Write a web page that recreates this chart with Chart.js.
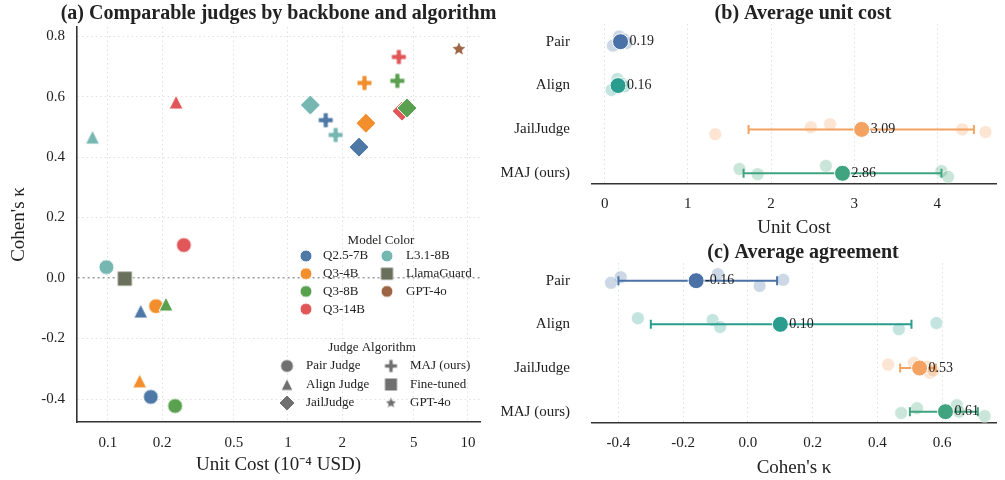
<!DOCTYPE html>
<html>
<head>
<meta charset="utf-8">
<script src="https://cdn.jsdelivr.net/npm/chart.js@4.4.1/dist/chart.umd.min.js"></script>
<style>
  body { margin: 0; background: #fff; }
  #wrap { position: relative; width: 1005px; height: 480px; overflow: hidden; }
  canvas { position: absolute; }
</style>
</head>
<body>
<div id="wrap">
  <canvas id="chart-a" width="520" height="480" style="left:0;top:0;width:520px;height:480px"></canvas>
  <canvas id="chart-b" width="505" height="240" style="left:500px;top:0;width:505px;height:240px"></canvas>
  <canvas id="chart-c" width="505" height="244" style="left:500px;top:236px;width:505px;height:244px"></canvas>
</div>
<script>
// backbones, in legend order
var models = ["Q2.5-7B", "Q3-4B", "Q3-8B", "Q3-14B", "L3.1-8B"];
var modelColors = ["#4e79a7", "#f28e2b", "#59a14f", "#e15759", "#76b7b2"];

// unit cost (1e-4 USD) and Cohen's kappa, same model order
var pairCost = [0.173, 0.185, 0.236, 0.264, 0.098];
var pairKappa = [-0.393, -0.093, -0.423, 0.109, 0.036];
var alignCost = [0.152, 0.150, 0.210, 0.239, 0.082];
var alignKappa = [-0.109, -0.340, -0.086, 0.582, 0.466];
var jailCost = [2.48, 2.71, 4.58, 4.30, 1.33];
var jailKappa = [0.433, 0.512, 0.562, 0.552, 0.572];
var majCost = [1.62, 2.66, 4.05, 4.13, 1.84];
var majKappa = [0.522, 0.645, 0.652, 0.731, 0.473];

var llamaGuardCost = 0.124, llamaGuardKappa = -0.002;
var gpt4oCost = 8.9, gpt4oKappa = 0.757;

var xTicksA = [0.1, 0.2, 0.5, 1, 2, 5, 10];
var xTickLabelsA = ["0.1", "0.2", "0.5", "1", "2", "5", "10"];
var yTicksA = [-0.4, -0.2, 0, 0.2, 0.4, 0.6, 0.8];

// panels b / c
var rowLabels = ["Pair", "Align", "JailJudge", "MAJ (ours)"];
var rowColors = ["#4a72a6", "#2a9d8f", "#f4a261", "#3fa47f"];
var costMean = [0.19, 0.16, 3.09, 2.86];
var costLow = [0.13, 0.10, 1.73, 1.67];
var costHigh = [0.25, 0.22, 4.44, 4.05];
var kappaMean = [-0.16, 0.10, 0.53, 0.61];
var kappaLow = [-0.40, -0.30, 0.47, 0.50];
var kappaHigh = [0.09, 0.505, 0.58, 0.71];
var xTicksB = [0, 1, 2, 3, 4];
var xTicksC = [-0.4, -0.2, 0, 0.2, 0.4, 0.6];

// vertical jitter of the faded per-model dots (row units)
var costJitter = [
  [-0.12, 0.05, -0.05, 0.03, 0.09],
  [-0.15, 0.06, -0.04, 0.02, 0.10],
  [-0.05, -0.12, 0.06, 0.00, 0.11],
  [-0.10, -0.17, -0.05, 0.08, 0.02]
];
var kappaJitter = [
  [-0.08, -0.15, 0.05, -0.02, 0.12],
  [-0.10, -0.14, 0.06, -0.03, 0.11],
  [-0.08, -0.12, 0.11, -0.03, 0.06],
  [-0.08, -0.15, 0.00, 0.10, 0.03]
];

var SERIF = "'Liberation Serif', 'Times New Roman', serif";
Chart.defaults.font.family = SERIF;
Chart.defaults.color = "#222";

function makeMarker(shape, color, r) {
  var s = Math.ceil(r * 2 + 4), m = s / 2;
  var c = document.createElement("canvas");
  c.width = s; c.height = s;
  var g = c.getContext("2d");
  g.fillStyle = color;
  g.strokeStyle = "#fff";
  g.lineWidth = 1;
  g.beginPath();
  if (shape === "circle") {
    g.arc(m, m, r, 0, 2 * Math.PI);
  } else if (shape === "triangle") {
    g.moveTo(m, m - r); g.lineTo(m + r, m + r); g.lineTo(m - r, m + r); g.closePath();
  } else if (shape === "diamond") {
    g.moveTo(m, m - r); g.lineTo(m + r, m); g.lineTo(m, m + r); g.lineTo(m - r, m); g.closePath();
  } else if (shape === "square") {
    g.rect(m - r, m - r, 2 * r, 2 * r);
  } else if (shape === "plus") {
    var t = r * 0.34;
    g.moveTo(m - t, m - r); g.lineTo(m + t, m - r); g.lineTo(m + t, m - t); g.lineTo(m + r, m - t);
    g.lineTo(m + r, m + t); g.lineTo(m + t, m + t); g.lineTo(m + t, m + r); g.lineTo(m - t, m + r);
    g.lineTo(m - t, m + t); g.lineTo(m - r, m + t); g.lineTo(m - r, m - t); g.lineTo(m - t, m - t);
    g.closePath();
  } else if (shape === "star") {
    for (var k = 0; k < 10; k++) {
      var a = -Math.PI / 2 + k * Math.PI / 5;
      var rr = k % 2 ? r * 0.45 : r;
      g.lineTo(m + rr * Math.cos(a), m + rr * Math.sin(a));
    }
    g.closePath();
  }
  g.fill();
  g.stroke();
  return c;
}

function fade(hex, a) {
  var n = parseInt(hex.slice(1), 16);
  return "rgba(" + (n >> 16) + "," + ((n >> 8) & 255) + "," + (n & 255) + "," + a + ")";
}

var panelTitle = {
  id: "panelTitle",
  afterDraw: function (chart, args, opts) {
    var ctx = chart.ctx;
    ctx.save();
    ctx.font = "bold 20px " + SERIF;
    ctx.fillStyle = "#222";
    ctx.textAlign = "center";
    ctx.textBaseline = "middle";
    ctx.fillText(opts.text, opts.x, opts.y);
    ctx.restore();
  }
};

// ---------- (a) scatter ----------
var algoShapes = ["circle", "triangle", "diamond", "plus"];
var markerSize = { circle: 7.5, triangle: 7, diamond: 10, plus: 7.5, square: 7.5, star: 8 };
var algoCost = [pairCost, alignCost, jailCost, majCost];
var algoKappa = [pairKappa, alignKappa, jailKappa, majKappa];
var zOrder = [1, 2, 0, 3, 4];

var datasetsA = models.map(function (name, i) {
  return {
    label: name,
    data: algoCost.map(function (c, k) { return { x: c[i], y: algoKappa[k][i] }; }),
    pointStyle: algoShapes.map(function (s) { return makeMarker(s, modelColors[i], markerSize[s]); }),
    pointRadius: 8,
    order: zOrder[i]
  };
});
datasetsA.push({ label: "LlamaGuard", data: [{ x: llamaGuardCost, y: llamaGuardKappa }],
  pointStyle: makeMarker("square", "#6b705c", markerSize.square), pointRadius: 8, order: 5 });
datasetsA.push({ label: "GPT-4o", data: [{ x: gpt4oCost, y: gpt4oKappa }],
  pointStyle: makeMarker("star", "#9c6644", markerSize.star), pointRadius: 8, order: 6 });

var legendA = {
  id: "legendA",
  afterDraw: function (chart) {
    var ctx = chart.ctx;
    ctx.save();
    ctx.font = "13px " + SERIF;
    ctx.fillStyle = "#222";
    ctx.textBaseline = "middle";
    ctx.textAlign = "center";
    ctx.fillText("Model Color", 381, 241);
    ctx.fillText("Judge Algorithm", 372, 348);
    ctx.textAlign = "left";
    var names = models.concat(["LlamaGuard", "GPT-4o"]);
    var cols = modelColors.concat(["#6b705c", "#9c6644"]);
    names.forEach(function (n, i) {
      var col = i < 4 ? 0 : 1, row = i < 4 ? i : i - 4;
      var mx = col ? 387 : 306, tx = col ? 406 : 323, y = 256 + row * 17.7;
      var mk = makeMarker(n === "LlamaGuard" ? "square" : "circle", cols[i], n === "LlamaGuard" ? 6.5 : 6);
      ctx.drawImage(mk, mx - mk.width / 2, y - mk.height / 2);
      ctx.fillStyle = "#222";
      ctx.fillText(n, tx, y);
    });
    var algoNames = ["Pair Judge", "Align Judge", "JailJudge", "MAJ (ours)", "Fine-tuned", "GPT-4o"];
    var algoMarks = ["circle", "triangle", "diamond", "plus", "square", "star"];
    var algoR = [6.5, 6, 8, 6.5, 6.5, 6.5];
    algoNames.forEach(function (n, i) {
      var col = i < 3 ? 0 : 1, row = i % 3;
      var mx = col ? 391 : 287, tx = col ? 410 : 306, y = 366 + row * 18.5;
      var mk = makeMarker(algoMarks[i], "#707070", algoR[i]);
      ctx.drawImage(mk, mx - mk.width / 2, y - mk.height / 2);
      ctx.fillText(n, tx, y);
    });
    ctx.restore();
  }
};

new Chart(document.getElementById("chart-a"), {
  type: "scatter",
  data: { datasets: datasetsA },
  plugins: [legendA, panelTitle],
  options: {
    responsive: false,
    animation: false,
    events: [],
    layout: { padding: { top: 27, right: 40, left: 0, bottom: 0 } },
    plugins: {
      legend: { display: false },
      tooltip: { enabled: false },
      panelTitle: { text: "(a) Comparable judges by backbone and algorithm", x: 278.5, y: 14 }
    },
    scales: {
      x: {
        type: "logarithmic",
        min: 0.0673, max: 11.66,
        afterBuildTicks: function (s) { s.ticks = xTicksA.map(function (v) { return { value: v }; }); },
        afterFit: function (s) { s.height = 58; },
        ticks: { autoSkip: false, maxRotation: 0, padding: 12, font: { size: 15 },
          callback: function (v, i) { return xTickLabelsA[i]; } },
        grid: { color: "#e0e0e0", lineWidth: 1, drawTicks: false },
        border: { display: true, color: "#333", width: 1.6,
          dash: function (c) { return c.type === "tick" ? [1.5, 3] : []; } },
        title: { display: true, text: "Unit Cost (10\u207B\u2074 USD)", font: { size: 19 }, padding: { top: 0, bottom: 4 } }
      },
      y: {
        min: -0.476, max: 0.83,
        afterBuildTicks: function (s) { s.ticks = yTicksA.map(function (v) { return { value: v }; }); },
        afterFit: function (s) { s.width = 77; },
        ticks: { padding: 12, font: { size: 15 },
          callback: function (v) { return v.toFixed(1); } },
        grid: {
          drawTicks: false,
          color: function (c) { return c.tick && c.tick.value === 0 ? "#9a9a9a" : "#e0e0e0"; },
          lineWidth: function (c) { return c.tick && c.tick.value === 0 ? 1.4 : 1; }
        },
        border: { display: true, color: "#333", width: 1.6,
          dash: function (c) {
            if (c.type !== "tick") return [];
            return c.tick.value === 0 ? [2, 3] : [1.5, 3];
          } },
        title: { display: true, text: "Cohen's \u03BA", font: { size: 19 }, padding: { top: 8, bottom: 0 } }
      }
    }
  }
});

// ---------- (b) / (c) dot + error bar panels ----------
function rowChart(id, cfg) {
  var datasets = [];
  cfg.values.forEach(function (vals, r) {
    datasets.push({
      data: vals.map(function (v, i) { return { x: v, y: r + cfg.jitter[r][i] }; }),
      backgroundColor: fade(rowColors[r], 0.28),
      borderColor: "rgba(255,255,255,0.7)",
      borderWidth: 1,
      pointRadius: 6.5,
      order: 3
    });
    datasets.push({
      data: [{ x: cfg.low[r], y: r }, { x: cfg.high[r], y: r }],
      showLine: true,
      borderColor: rowColors[r],
      borderWidth: 2,
      pointStyle: "line",
      pointRotation: 90,
      pointRadius: 4.5,
      pointBorderColor: rowColors[r],
      pointBorderWidth: 2,
      order: 2
    });
  });
  datasets.push({
    data: cfg.mean.map(function (m, r) { return { x: m, y: r }; }),
    backgroundColor: rowColors,
    borderColor: "#fff",
    borderWidth: 1,
    pointRadius: 8,
    order: 1
  });

  var valueLabels = {
    id: "valueLabels",
    afterDatasetsDraw: function (chart) {
      var ctx = chart.ctx, xs = chart.scales.x, ys = chart.scales.y;
      ctx.save();
      ctx.font = "14px " + SERIF;
      ctx.fillStyle = "#222";
      ctx.textAlign = "left";
      ctx.textBaseline = "middle";
      cfg.mean.forEach(function (m, r) {
        ctx.fillText(m.toFixed(2), xs.getPixelForValue(m) + 9, ys.getPixelForValue(r));
      });
      ctx.restore();
    }
  };

  new Chart(document.getElementById(id), {
    type: "scatter",
    data: { datasets: datasets },
    plugins: [valueLabels, panelTitle],
    options: {
      responsive: false,
      animation: false,
      events: [],
      layout: { padding: { top: cfg.top, right: 0, left: 0, bottom: 0 } },
      plugins: {
        legend: { display: false },
        tooltip: { enabled: false },
        panelTitle: { text: cfg.title, x: 303, y: cfg.titleY }
      },
      scales: {
        x: {
          min: cfg.xmin, max: cfg.xmax,
          afterBuildTicks: function (s) { s.ticks = cfg.ticks.map(function (v) { return { value: v }; }); },
          afterFit: function (s) { s.height = cfg.xHeight; },
          ticks: { autoSkip: false, maxRotation: 0, padding: cfg.tickPad, font: { size: 15 },
            callback: function (v) { return cfg.fmt(v); } },
          grid: { color: "#e0e0e0", lineWidth: 1, drawTicks: false },
          border: { display: true, color: "#333", width: 1.6,
            dash: function (c) { return c.type === "tick" ? [1.5, 3] : []; } },
          title: { display: true, text: cfg.xTitle, font: { size: 19 }, padding: { top: 0, bottom: 1 } }
        },
        y: {
          reverse: true,
          min: cfg.ymin, max: cfg.ymax,
          afterBuildTicks: function (s) { s.ticks = rowLabels.map(function (l, i) { return { value: i }; }); },
          afterFit: function (s) { s.width = 92; },
          ticks: { padding: 14, font: { size: 15 },
            callback: function (v) { return rowLabels[v]; } },
          grid: { display: false },
          border: { display: false }
        }
      }
    }
  });
}

rowChart("chart-b", {
  values: [pairCost, alignCost, jailCost, majCost],
  jitter: costJitter,
  mean: costMean, low: costLow, high: costHigh,
  xmin: -0.153, xmax: 4.706, ymin: -0.403, ymax: 3.228,
  ticks: xTicksB, fmt: function (v) { return String(v); },
  top: 24, xHeight: 56.7, tickPad: 12,
  title: "(b) Average unit cost", titleY: 14,
  xTitle: "Unit Cost"
});

rowChart("chart-c", {
  values: [pairKappa, alignKappa, jailKappa, majKappa],
  jitter: kappaJitter,
  mean: kappaMean, low: kappaLow, high: kappaHigh,
  xmin: -0.4816, xmax: 0.766, ymin: -0.405, ymax: 3.252,
  ticks: xTicksC, fmt: function (v) { return v.toFixed(1); },
  top: 27, xHeight: 57.3, tickPad: 11,
  title: "(c) Average agreement", titleY: 16.7,
  xTitle: "Cohen's \u03BA"
});
</script>
</body>
</html>
